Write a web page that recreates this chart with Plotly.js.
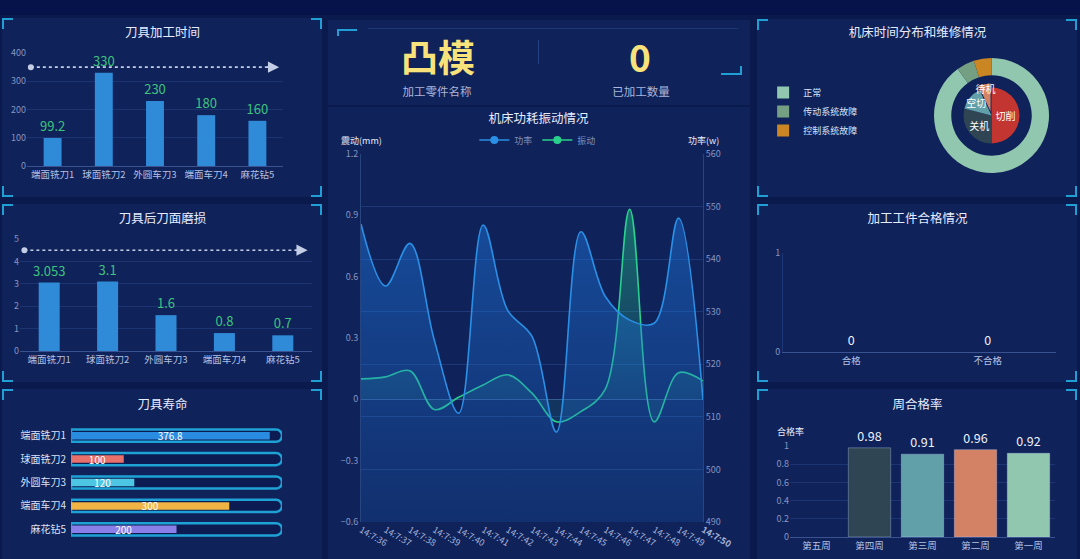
<!DOCTYPE html>
<html><head><meta charset="utf-8">
<script src="https://cdn.plot.ly/plotly-3.0.1.min.js"></script>
<style>
html,body{margin:0;padding:0;width:1080px;height:559px;overflow:hidden;background:#0a1a4d;font-family:"Noto Sans CJK SC","Noto Sans",sans-serif;}
.topbar{position:absolute;left:0;top:0;width:1080px;height:15px;background:#06134a;}
.panel{position:absolute;background:#0f2259;}
.br{position:absolute;width:9px;height:9px;border-color:#1f9fd4;border-style:solid;border-width:0;}
.chart{position:absolute;}
.txt{position:absolute;white-space:nowrap;transform:translate(-50%,-50%);}
</style></head><body>
<div class="topbar"></div>
<script>
// ---------------- data ----------------
const toolNames = ['端面铣刀1','球面铣刀2','外圆车刀3','端面车刀4','麻花钻5'];
const machTime = [99.2, 330, 230, 180, 160];
const machTimeLimit = 350;
const flankWear = [3.053, 3.1, 1.6, 0.8, 0.7];
const flankWearLimit = 4.5;
const toolLife = [376.8, 100, 120, 300, 200];
const toolLifeMax = 400;
const partName = '凸模';
const partCount = 0;
const times = ['14:7:36','14:7:37','14:7:38','14:7:39','14:7:40','14:7:41','14:7:42','14:7:43','14:7:44','14:7:45','14:7:46','14:7:47','14:7:48','14:7:49','14:7:50'];
const power = [546.7, 534.9, 543, 524.6, 510.7, 546.5, 530.3, 525.3, 507.1, 545.2, 532.9, 528.4, 527.8, 547.8, 513.2];
const vibration = [0.1, 0.11, 0.14, -0.05, 0.01, 0.07, 0.12, 0.03, -0.11, -0.06, 0.05, 0.93, -0.11, 0.13, 0.09];
const stateLabels = ['正常','传动系统故障','控制系统故障'];
const stateValues = [90, 5, 5];
const modeLabels = ['切削','关机','空切','待机'];
const modeValues = [50, 29, 14, 7];
const qualityLabels = ['合格','不合格'];
const qualityValues = [0, 0];
const weekLabels = ['第五周','第四周','第三周','第二周','第一周'];
const weekRates = [null, 0.98, 0.91, 0.96, 0.92];

// ---------------- styles ----------------
const FONT = '"Noto Sans CJK SC","Noto Sans",sans-serif';
const lifeColors = ['#2a8ce0','#e8706a','#4cc6e3','#f0b444','#8a7ee8'];
const stateColors = ['#91c7ae','#749f83','#ca8622'];
const modeColors = ['#c23531','#2f4554','#61a0a8','#d48265'];
const weekColors = ['#c23531','#2f4554','#61a0a8','#d48265','#91c7ae'];
const powerColor = '#2a90e6', vibColor = '#2ad08d';
const gridC = '#1c3572', axisC = '#3a5290', tickC = '#8695c2', labC = '#b4c0e4';
const cfg = {displayModeBar:false, staticPlot:true};

function panel(x,y,w,h,corners){
  const d=document.createElement('div'); d.className='panel';
  Object.assign(d.style,{left:x+'px',top:y+'px',width:w+'px',height:h+'px'});
  document.body.appendChild(d);
  corners.forEach(c=>{ const b=document.createElement('div'); b.className='br'; const s=b.style;
    if(c[0]==='t'){s.top='0';s.borderTopWidth='2px';} else {s.bottom='0';s.borderBottomWidth='2px';}
    if(c[1]==='l'){s.left='0';s.borderLeftWidth='2px';} else {s.right='0';s.borderRightWidth='2px';}
    d.appendChild(b);});
  return d;
}
function chartDiv(id,x,y,w,h){
  const d=document.createElement('div'); d.className='chart'; d.id=id;
  Object.assign(d.style,{left:x+'px',top:y+'px',width:w+'px',height:h+'px'});
  document.body.appendChild(d); return d;
}
function title(text,y){return {text:text,font:{family:FONT,size:12.5,color:'#e6ecff'},x:0.5,xanchor:'center',y:y,yref:'container',yanchor:'middle'};}
const all4=['tl','tr','bl','br'];
panel(2,18,320,179,all4);
panel(2,204,320,178,all4);
panel(2,389,320,175,['tl','tr']);
panel(328,20,422,85,[]);
panel(328,107,422,460,[]);
panel(757,19,320,178,all4);
panel(757,204,320,178,all4);
panel(757,389,320,175,['tl','tr']);

// top info box
(function(){
  const add=(html,css)=>{const e=document.createElement('div');e.className='txt';e.innerHTML=html;Object.assign(e.style,css);document.body.appendChild(e);return e;};
  add(partName,{left:'438px',top:'56px',fontSize:'37px',fontWeight:'bold',color:'#f8e27c'});
  add(String(partCount),{left:'640px',top:'56px',fontSize:'37px',fontWeight:'bold',color:'#f8e27c'});
  add('加工零件名称',{left:'437px',top:'91px',fontSize:'11.5px',color:'#aab6dc'});
  add('已加工数量',{left:'641px',top:'91px',fontSize:'11.5px',color:'#aab6dc'});
  const line=(css)=>{const e=document.createElement('div');e.style.position='absolute';Object.assign(e.style,css);document.body.appendChild(e);};
  line({left:'538px',top:'40px',width:'1px',height:'24px',background:'#24407e'});
  line({left:'368px',top:'28px',width:'370px',height:'1px',background:'#1a3776'});
  line({left:'337px',top:'29px',width:'20px',height:'2px',background:'#1f9fd4'});
  line({left:'337px',top:'29px',width:'2px',height:'7px',background:'#1f9fd4'});
  line({left:'721px',top:'73px',width:'21px',height:'2px',background:'#1f9fd4'});
  line({left:'740px',top:'66px',width:'2px',height:'9px',background:'#1f9fd4'});
})();

// ---------- bar chart with threshold line ----------
function barChart(id,ttl,x,y,w,h,margin,titleY,cats,vals,limit,yrange,dtick,bargap){
  chartDiv(id,x,y,w,h);
  const lc='#c3cde6';
  Plotly.newPlot(id,[{type:'bar',x:cats,y:vals,marker:{color:'#2f8bd8'},
     texttemplate:'%{y}',textposition:'outside',cliponaxis:false,constraintext:'none',
     textfont:{family:FONT,size:13,color:'#3fc27f'},hoverinfo:'none'}],
  {paper_bgcolor:'rgba(0,0,0,0)',plot_bgcolor:'rgba(0,0,0,0)',margin:margin,showlegend:false,bargap:bargap,
   title:title(ttl,titleY),
   font:{family:FONT},
   xaxis:{type:'category',tickfont:{size:9.5,color:labC},showline:true,linecolor:axisC,ticks:'',showgrid:false,fixedrange:true},
   yaxis:{range:yrange,dtick:dtick,gridcolor:gridC,tickfont:{size:9,color:tickC},zeroline:false,showline:false,ticks:'',fixedrange:true},
   shapes:[{type:'line',xref:'paper',yref:'y',x0:0.015,x1:0.975,y0:limit,y1:limit,line:{color:lc,width:1.6,dash:'dot'}},
           {type:'circle',xref:'paper',yref:'y',xsizemode:'pixel',ysizemode:'pixel',xanchor:0.015,yanchor:limit,x0:-3,x1:3,y0:-3,y1:3,fillcolor:lc,line:{width:0}}],
   annotations:[{xref:'paper',yref:'y',x:0.985,y:limit,text:'',showarrow:true,ax:-14,ay:0,arrowhead:2,arrowsize:1.4,arrowwidth:1.6,arrowcolor:lc}]
  },cfg);
}
barChart('c1','刀具加工时间',0,15,325,185,{l:27,r:42,t:38,b:34},0.903,toolNames,machTime,machTimeLimit,[0,400],100,0.65);
barChart('c2','刀具后刀面磨损',0,200,325,185,{l:20,r:13,t:39,b:34},0.897,toolNames,flankWear,flankWearLimit,[0,5],1,0.64);

// ---------- tool life ----------
chartDiv('c3',0,385,325,174);
Plotly.newPlot('c3',[
  {type:'bar',orientation:'h',y:toolNames,x:toolNames.map(()=>toolLifeMax),width:0.52,
   marker:{color:'#0c1c52',line:{color:'#1ea2d6',width:2.5},cornerradius:6},hoverinfo:'none'},
  {type:'bar',orientation:'h',y:toolNames,x:toolLife,width:0.32,marker:{color:lifeColors,cornerradius:4},
   texttemplate:'%{x}',textposition:'inside',insidetextanchor:'middle',constraintext:'none',
   textfont:{family:FONT,size:10,color:'#ffffff'},hoverinfo:'none'}],
 {paper_bgcolor:'rgba(0,0,0,0)',plot_bgcolor:'rgba(0,0,0,0)',margin:{l:71,r:43,t:39,b:18},showlegend:false,barmode:'overlay',
  title:title('刀具寿命',0.89),font:{family:FONT},
  xaxis:{range:[0,toolLifeMax],visible:false,fixedrange:true},
  yaxis:{type:'category',autorange:'reversed',tickfont:{size:10,color:'#dbe3f7'},showgrid:false,showline:false,zeroline:false,ticks:'',ticklabelstandoff:4,fixedrange:true}
 },cfg);

// ---------- power & vibration ----------
chartDiv('c4',327,105,423,454);
const tickText = times.map((t,i)=> i===times.length-1 ? '<b>'+t+'</b>' : t);
Plotly.newPlot('c4',[
  {type:'scatter',mode:'lines',name:'功率',showlegend:false,x:times,y:power,yaxis:'y2',line:{color:powerColor,width:1.6,shape:'spline',smoothing:1},
   fill:'tozeroy',fillgradient:{type:'vertical',start:490,stop:560,colorscale:[[0,'rgba(30,110,210,0.18)'],[1,'rgba(30,120,225,0.55)']]},hoverinfo:'none'},
  {type:'scatter',mode:'lines',name:'振动',showlegend:false,x:times,y:vibration,yaxis:'y',line:{color:vibColor,width:1.6,shape:'spline',smoothing:1},
   fill:'tozeroy',fillgradient:{type:'vertical',start:0,stop:0.93,colorscale:[[0,'rgba(40,190,140,0.12)'],[1,'rgba(40,200,140,0.45)']]},hoverinfo:'none'},
  {type:'scatter',mode:'lines+markers',name:'功率',x:[null],y:[null],line:{color:powerColor,width:1.6},marker:{color:powerColor,size:8},hoverinfo:'none'},
  {type:'scatter',mode:'lines+markers',name:'振动',x:[null],y:[null],line:{color:vibColor,width:1.6},marker:{color:vibColor,size:8},hoverinfo:'none'}],
 {paper_bgcolor:'rgba(0,0,0,0)',plot_bgcolor:'rgba(0,0,0,0)',margin:{l:34,r:47,t:49,b:37},
  title:title('机床功耗振动情况',0.969),font:{family:FONT},showlegend:true,
  legend:{orientation:'h',x:0.517,xanchor:'center',y:1.038,yanchor:'middle',font:{size:9,color:'#7f8fba'},bgcolor:'rgba(0,0,0,0)',itemwidth:30},
  xaxis:{type:'category',range:[0,times.length-1],tickangle:30,tickvals:times,ticktext:tickText,tickfont:{size:9,color:'#a6b4da'},showgrid:false,showline:false,ticks:'',fixedrange:true},
  yaxis:{range:[-0.6,1.2],dtick:0.3,tick0:0,showgrid:false,zeroline:true,zerolinecolor:'#36548f',zerolinewidth:1,showline:true,linecolor:'#27457f',tickfont:{size:9,color:tickC},ticks:'',fixedrange:true},
  yaxis2:{overlaying:'y',side:'right',range:[490,560],dtick:10,showgrid:true,gridcolor:'#1d3878',zeroline:false,showline:true,linecolor:'#27457f',tickfont:{size:9,color:tickC},ticks:'',fixedrange:true},
  annotations:[{xref:'paper',yref:'paper',x:0,y:1.038,text:'震动(mm)',showarrow:false,xanchor:'center',yanchor:'middle',font:{size:9,color:'#e6ecff'}},
               {xref:'paper',yref:'paper',x:1,y:1.038,text:'功率(w)',showarrow:false,xanchor:'center',yanchor:'middle',font:{size:9,color:'#e6ecff'}}]
 },cfg);

// ---------- machine state donut ----------
chartDiv('c5',755,15,325,185);
Plotly.newPlot('c5',[
  {type:'pie',labels:stateLabels,values:stateValues,hole:0.7,sort:false,direction:'clockwise',rotation:0,
   marker:{colors:stateColors,line:{width:0}},textinfo:'none',hoverinfo:'none',domain:{x:[0.5508,0.9046],y:[0.146,0.768]}},
  {type:'pie',labels:modeLabels,values:modeValues,sort:false,direction:'clockwise',rotation:0,showlegend:false,
   pull:[0,0,0,0.15],marker:{colors:modeColors,line:{width:0}},textinfo:'label',textposition:'inside',insidetextorientation:'horizontal',
   textfont:{family:FONT,size:10,color:'#ffffff'},hoverinfo:'none',domain:{x:[0.6286,0.8268],y:[0.2827,0.6308]}}],
 {paper_bgcolor:'rgba(0,0,0,0)',plot_bgcolor:'rgba(0,0,0,0)',margin:{l:0,r:0,t:0,b:0},
  title:title('机床时间分布和维修情况',0.903),font:{family:FONT},uniformtext:{minsize:10,mode:'show'},
  legend:{x:0.025,y:0.66,xanchor:'left',yanchor:'top',font:{size:9,color:'#dbe3f7'},bgcolor:'rgba(0,0,0,0)',tracegroupgap:0}
 },cfg);

// ---------- quality ----------
chartDiv('c6',755,200,325,185);
Plotly.newPlot('c6',[{type:'bar',x:qualityLabels,y:qualityValues,marker:{color:'#2f8bd8'},texttemplate:'%{y}',textposition:'outside',
   cliponaxis:false,constraintext:'none',textfont:{family:FONT,size:12.5,color:'#eef2ff'},hoverinfo:'none'}],
 {paper_bgcolor:'rgba(0,0,0,0)',plot_bgcolor:'rgba(0,0,0,0)',margin:{l:28,r:24,t:53,b:33},showlegend:false,
  title:title('加工工件合格情况',0.897),font:{family:FONT},
  xaxis:{type:'category',tickfont:{size:9.5,color:labC},showline:true,linecolor:axisC,ticks:'',showgrid:false,fixedrange:true},
  yaxis:{range:[0,1],dtick:1,gridcolor:gridC,tickfont:{size:9,color:tickC},zeroline:false,showline:true,linecolor:'#1e3776',ticks:'',fixedrange:true}
 },cfg);

// ---------- weekly rate ----------
chartDiv('c7',755,385,325,174);
Plotly.newPlot('c7',[{type:'bar',x:weekLabels,y:weekRates,width:0.8,marker:{color:weekColors,line:{color:'rgba(190,210,245,0.35)',width:1}},
   texttemplate:'%{y}',textposition:'outside',cliponaxis:false,constraintext:'none',textfont:{family:FONT,size:12.5,color:'#eef2ff'},hoverinfo:'none'}],
 {paper_bgcolor:'rgba(0,0,0,0)',plot_bgcolor:'rgba(0,0,0,0)',margin:{l:35,r:25,t:61,b:22},showlegend:false,
  title:title('周合格率',0.89),font:{family:FONT},
  xaxis:{type:'category',tickfont:{size:9.5,color:labC},showline:true,linecolor:axisC,ticks:'',showgrid:false,fixedrange:true},
  yaxis:{range:[0,1],dtick:0.2,gridcolor:gridC,tickfont:{size:9,color:tickC},zeroline:false,showline:false,ticks:'',fixedrange:true},
  annotations:[{xref:'paper',yref:'paper',x:0,y:1.154,text:'合格率',showarrow:false,xanchor:'center',yanchor:'middle',font:{size:9,color:'#e6ecff'}}]
 },cfg);
</script>
</body></html>
